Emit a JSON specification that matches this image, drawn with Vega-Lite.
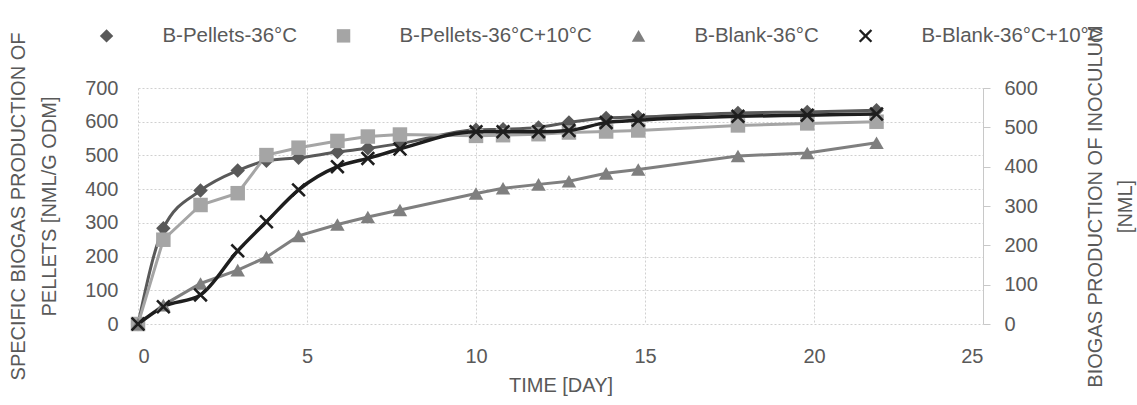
{
  "$schema": "https://vega.github.io/schema/vega-lite/v6.json",
  "width": 845,
  "height": 236,
  "autosize": {"type": "none"},
  "padding": {"left": 138, "top": 88, "right": 154, "bottom": 81},
  "background": "white",
  "config": {
    "font": "Liberation Sans",
    "view": {"stroke": null},
    "axis": {
      "labelFont": "Liberation Sans",
      "titleFont": "Liberation Sans",
      "labelColor": "#595959",
      "titleColor": "#595959",
      "labelFontSize": 20,
      "titleFontSize": 20,
      "titleFontWeight": "normal",
      "gridColor": "#d0d0d0",
      "gridDash": [2, 2],
      "gridWidth": 1
    },
    "legend": {"labelFont": "Liberation Sans", "labelLimit": 400}
  },
  "data": {
    "values": [
      {"day": 0, "series": "B-Pellets-36°C", "v": 0},
      {"day": 0.75, "series": "B-Pellets-36°C", "v": 284},
      {"day": 1.85, "series": "B-Pellets-36°C", "v": 396},
      {"day": 2.95, "series": "B-Pellets-36°C", "v": 455},
      {"day": 3.8, "series": "B-Pellets-36°C", "v": 484},
      {"day": 4.75, "series": "B-Pellets-36°C", "v": 493},
      {"day": 5.9, "series": "B-Pellets-36°C", "v": 510},
      {"day": 6.8, "series": "B-Pellets-36°C", "v": 521},
      {"day": 7.75, "series": "B-Pellets-36°C", "v": 535},
      {"day": 10, "series": "B-Pellets-36°C", "v": 576},
      {"day": 10.8, "series": "B-Pellets-36°C", "v": 578},
      {"day": 11.85, "series": "B-Pellets-36°C", "v": 583},
      {"day": 12.75, "series": "B-Pellets-36°C", "v": 598},
      {"day": 13.85, "series": "B-Pellets-36°C", "v": 611},
      {"day": 14.8, "series": "B-Pellets-36°C", "v": 614},
      {"day": 17.75, "series": "B-Pellets-36°C", "v": 626},
      {"day": 19.8, "series": "B-Pellets-36°C", "v": 629},
      {"day": 21.85, "series": "B-Pellets-36°C", "v": 634},

      {"day": 0, "series": "B-Pellets-36°C+10°C", "v": 0},
      {"day": 0.75, "series": "B-Pellets-36°C+10°C", "v": 250},
      {"day": 1.85, "series": "B-Pellets-36°C+10°C", "v": 353},
      {"day": 2.95, "series": "B-Pellets-36°C+10°C", "v": 388},
      {"day": 3.8, "series": "B-Pellets-36°C+10°C", "v": 501},
      {"day": 4.75, "series": "B-Pellets-36°C+10°C", "v": 523},
      {"day": 5.9, "series": "B-Pellets-36°C+10°C", "v": 543},
      {"day": 6.8, "series": "B-Pellets-36°C+10°C", "v": 556},
      {"day": 7.75, "series": "B-Pellets-36°C+10°C", "v": 562},
      {"day": 10, "series": "B-Pellets-36°C+10°C", "v": 558},
      {"day": 10.8, "series": "B-Pellets-36°C+10°C", "v": 560},
      {"day": 11.85, "series": "B-Pellets-36°C+10°C", "v": 563},
      {"day": 12.75, "series": "B-Pellets-36°C+10°C", "v": 568},
      {"day": 13.85, "series": "B-Pellets-36°C+10°C", "v": 571},
      {"day": 14.8, "series": "B-Pellets-36°C+10°C", "v": 574},
      {"day": 17.75, "series": "B-Pellets-36°C+10°C", "v": 589},
      {"day": 19.8, "series": "B-Pellets-36°C+10°C", "v": 595},
      {"day": 21.85, "series": "B-Pellets-36°C+10°C", "v": 600},

      {"day": 0, "series": "B-Blank-36°C", "v": 0},
      {"day": 0.75, "series": "B-Blank-36°C", "v": 48},
      {"day": 1.85, "series": "B-Blank-36°C", "v": 103},
      {"day": 2.95, "series": "B-Blank-36°C", "v": 137},
      {"day": 3.8, "series": "B-Blank-36°C", "v": 170},
      {"day": 4.75, "series": "B-Blank-36°C", "v": 224},
      {"day": 5.9, "series": "B-Blank-36°C", "v": 253},
      {"day": 6.8, "series": "B-Blank-36°C", "v": 272},
      {"day": 7.75, "series": "B-Blank-36°C", "v": 290},
      {"day": 10, "series": "B-Blank-36°C", "v": 332},
      {"day": 10.8, "series": "B-Blank-36°C", "v": 345},
      {"day": 11.85, "series": "B-Blank-36°C", "v": 355},
      {"day": 12.75, "series": "B-Blank-36°C", "v": 363},
      {"day": 13.85, "series": "B-Blank-36°C", "v": 383},
      {"day": 14.8, "series": "B-Blank-36°C", "v": 393},
      {"day": 17.75, "series": "B-Blank-36°C", "v": 427},
      {"day": 19.8, "series": "B-Blank-36°C", "v": 435},
      {"day": 21.85, "series": "B-Blank-36°C", "v": 461},

      {"day": 0, "series": "B-Blank-36°C+10°C", "v": 0},
      {"day": 0.75, "series": "B-Blank-36°C+10°C", "v": 44},
      {"day": 1.85, "series": "B-Blank-36°C+10°C", "v": 74},
      {"day": 2.95, "series": "B-Blank-36°C+10°C", "v": 186},
      {"day": 3.8, "series": "B-Blank-36°C+10°C", "v": 260},
      {"day": 4.75, "series": "B-Blank-36°C+10°C", "v": 341},
      {"day": 5.9, "series": "B-Blank-36°C+10°C", "v": 400},
      {"day": 6.8, "series": "B-Blank-36°C+10°C", "v": 421},
      {"day": 7.75, "series": "B-Blank-36°C+10°C", "v": 445},
      {"day": 10, "series": "B-Blank-36°C+10°C", "v": 489},
      {"day": 10.8, "series": "B-Blank-36°C+10°C", "v": 489},
      {"day": 11.85, "series": "B-Blank-36°C+10°C", "v": 489},
      {"day": 12.75, "series": "B-Blank-36°C+10°C", "v": 492},
      {"day": 13.85, "series": "B-Blank-36°C+10°C", "v": 512},
      {"day": 14.8, "series": "B-Blank-36°C+10°C", "v": 518},
      {"day": 17.75, "series": "B-Blank-36°C+10°C", "v": 528},
      {"day": 19.8, "series": "B-Blank-36°C+10°C", "v": 531},
      {"day": 21.85, "series": "B-Blank-36°C+10°C", "v": 534}
    ]
  },
  "encoding": {
    "x": {
      "field": "day",
      "type": "quantitative",
      "scale": {"domain": [0, 25], "nice": false, "zero": false},
      "axis": {
        "values": [0, 5, 10, 15, 20, 25],
        "title": "TIME [DAY]",
        "domain": false,
        "ticks": false,
        "tickSize": 0,
        "labelPadding": 22,
        "titlePadding": 9,
        "grid": true
      }
    }
  },
  "layer": [
    {
      "transform": [{"filter": "datum.series === 'B-Pellets-36°C' || datum.series === 'B-Pellets-36°C+10°C'"}],
      "encoding": {
        "y": {
          "field": "v",
          "type": "quantitative",
          "scale": {"domain": [0, 700], "nice": false},
          "axis": {
            "orient": "left",
            "values": [0, 100, 200, 300, 400, 500, 600, 700],
            "title": ["SPECIFIC BIOGAS PRODUCTION OF", "PELLETS [NML/G ODM]"],
            "domain": false,
            "ticks": false,
            "tickSize": 0,
            "labelPadding": 20,
            "grid": true,
            "titleLineHeight": 31,
            "titlePadding": 25
          }
        }
      },
      "layer": [
        {
          "transform": [{"filter": "datum.series === 'B-Pellets-36°C'"}],
          "mark": {"type": "line", "interpolate": "monotone", "strokeWidth": 3},
          "encoding": {
            "stroke": {
              "field": "series", "type": "nominal",
              "sort": ["B-Pellets-36°C", "B-Pellets-36°C+10°C", "B-Blank-36°C", "B-Blank-36°C+10°C"],
              "scale": {"range": ["#595959", "#a5a5a5", "#7f7f7f", "#1e1e1e"]},
              "legend": null
            }
          }
        },
        {
          "transform": [{"filter": "datum.series === 'B-Pellets-36°C+10°C'"}],
          "mark": {"type": "line", "strokeWidth": 3},
          "encoding": {
            "stroke": {
              "field": "series", "type": "nominal",
              "sort": ["B-Pellets-36°C", "B-Pellets-36°C+10°C", "B-Blank-36°C", "B-Blank-36°C+10°C"],
              "scale": {"range": ["#595959", "#a5a5a5", "#7f7f7f", "#1e1e1e"]},
              "legend": null
            }
          }
        },
        {
          "mark": {"type": "point", "filled": true, "opacity": 1, "size": 210},
          "encoding": {
            "color": {
              "field": "series", "type": "nominal",
              "scale": {"domain": ["B-Pellets-36°C", "B-Pellets-36°C+10°C", "B-Blank-36°C", "B-Blank-36°C+10°C"], "range": ["#595959", "#a5a5a5", "#7f7f7f", "#1e1e1e"]},
              "legend": {"orient": "none", "legendX": -41.7, "legendY": -62.5, "direction": "horizontal", "title": null, "symbolSize": 180, "symbolStrokeWidth": 0, "symbolOpacity": 1, "labelFontSize": 20.5, "labelOffset": 45.6, "columnPadding": 36, "labelColor": "#595959", "padding": 0}
            },
            "shape": {
              "field": "series", "type": "nominal",
              "scale": {"domain": ["B-Pellets-36°C", "B-Pellets-36°C+10°C", "B-Blank-36°C", "B-Blank-36°C+10°C"], "range": ["diamond", "square", "triangle-up", "M-1,-0.75L-0.75,-1L0,-0.25L0.75,-1L1,-0.75L0.25,0L1,0.75L0.75,1L0,0.25L-0.75,1L-1,0.75L-0.25,0Z"]},
              "legend": {"orient": "none", "legendX": -41.7, "legendY": -62.5, "direction": "horizontal", "title": null, "symbolSize": 180, "symbolStrokeWidth": 0, "symbolOpacity": 1, "labelFontSize": 20.5, "labelOffset": 45.6, "columnPadding": 36, "labelColor": "#595959", "padding": 0}
            }
          }
        }
      ]
    },
    {
      "transform": [{"filter": "datum.series === 'B-Blank-36°C' || datum.series === 'B-Blank-36°C+10°C'"}],
      "encoding": {
        "y": {
          "field": "v",
          "type": "quantitative",
          "scale": {"domain": [0, 600], "nice": false},
          "axis": {
            "orient": "right",
            "values": [0, 100, 200, 300, 400, 500, 600],
            "title": ["BIOGAS PRODUCTION OF INOCULUM", "[NML]"],
            "grid": false,
            "domain": true,
            "domainColor": "#c8c8c8",
            "tickColor": "#c8c8c8",
            "tickSize": 7,
            "labelPadding": 14,
            "titleAngle": -90,
            "titleBaseline": "top",
            "titleLineHeight": 30,
            "titlePadding": 18
          }
        }
      },
      "layer": [
        {
          "transform": [{"filter": "datum.series === 'B-Blank-36°C'"}],
          "mark": {"type": "line", "strokeWidth": 3},
          "encoding": {
            "stroke": {
              "field": "series", "type": "nominal",
              "sort": ["B-Pellets-36°C", "B-Pellets-36°C+10°C", "B-Blank-36°C", "B-Blank-36°C+10°C"],
              "scale": {"range": ["#595959", "#a5a5a5", "#7f7f7f", "#1e1e1e"]},
              "legend": null
            }
          }
        },
        {
          "transform": [{"filter": "datum.series === 'B-Blank-36°C+10°C'"}],
          "mark": {"type": "line", "interpolate": "monotone", "strokeWidth": 3.5},
          "encoding": {
            "stroke": {
              "field": "series", "type": "nominal",
              "sort": ["B-Pellets-36°C", "B-Pellets-36°C+10°C", "B-Blank-36°C", "B-Blank-36°C+10°C"],
              "scale": {"range": ["#595959", "#a5a5a5", "#7f7f7f", "#1e1e1e"]},
              "legend": null
            }
          }
        },
        {
          "mark": {"type": "point", "filled": true, "opacity": 1, "size": 210},
          "encoding": {
            "color": {
              "field": "series", "type": "nominal",
              "scale": {"domain": ["B-Pellets-36°C", "B-Pellets-36°C+10°C", "B-Blank-36°C", "B-Blank-36°C+10°C"], "range": ["#595959", "#a5a5a5", "#7f7f7f", "#1e1e1e"]},
              "legend": {"orient": "none", "legendX": -41.7, "legendY": -62.5, "direction": "horizontal", "title": null, "symbolSize": 180, "symbolStrokeWidth": 0, "symbolOpacity": 1, "labelFontSize": 20.5, "labelOffset": 45.6, "columnPadding": 36, "labelColor": "#595959", "padding": 0}
            },
            "shape": {
              "field": "series", "type": "nominal",
              "scale": {"domain": ["B-Pellets-36°C", "B-Pellets-36°C+10°C", "B-Blank-36°C", "B-Blank-36°C+10°C"], "range": ["diamond", "square", "triangle-up", "M-1,-0.75L-0.75,-1L0,-0.25L0.75,-1L1,-0.75L0.25,0L1,0.75L0.75,1L0,0.25L-0.75,1L-1,0.75L-0.25,0Z"]},
              "legend": {"orient": "none", "legendX": -41.7, "legendY": -62.5, "direction": "horizontal", "title": null, "symbolSize": 180, "symbolStrokeWidth": 0, "symbolOpacity": 1, "labelFontSize": 20.5, "labelOffset": 45.6, "columnPadding": 36, "labelColor": "#595959", "padding": 0}
            }
          }
        }
      ]
    }
  ],
  "resolve": {"scale": {"y": "independent"}, "axis": {"y": "independent"}}
}
